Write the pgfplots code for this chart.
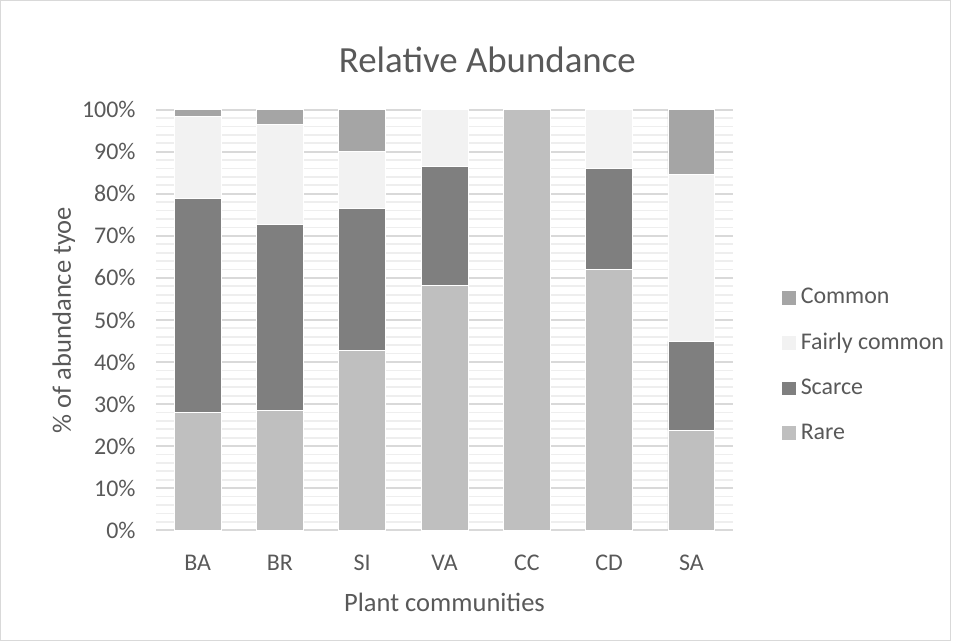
\documentclass[border=0pt]{standalone}
\usepackage{pgfplots}
\pgfplotsset{compat=1.18}
\usepackage{fontspec}
\setmainfont{Carlito}
\definecolor{txt}{HTML}{595959}
\definecolor{cRare}{HTML}{BFBFBF}
\definecolor{cScarce}{HTML}{7F7F7F}
\definecolor{cFair}{HTML}{F2F2F2}
\definecolor{cCommon}{HTML}{A5A5A5}
\definecolor{gmaj}{HTML}{D9D9D9}
\definecolor{gmin}{HTML}{EEEEEE}

\pgfplotstableread{
x  rare scarce fair common
0  28.0 50.9   19.5 1.6
1  28.4 44.2   23.9 3.5
2  42.7 33.8   13.6 9.9
3  58.3 28.2   13.5 0.0
4  100  0.0    0.0  0.0
5  61.9 24.1   14.0 0.0
6  23.7 21.2   39.7 15.4
}\abund

\begin{document}
\begin{tikzpicture}
\begin{axis}[
    name=ax,
    at={(0,0)}, anchor=south west,
    scale only axis,
    width=289pt, height=211pt,
    ybar stacked,
    bar width=0.57,
    xmin=-0.5, xmax=6.5,
    ymin=0, ymax=100,
    xtick={0,...,6},
    xticklabels={BA,BR,SI,VA,CC,CD,SA},
    ytick={0,10,...,100},
    minor ytick={2,4,...,98},
    yticklabel={\pgfmathprintnumber{\tick}\%},
    /pgf/number format/assume math mode=true,
    ymajorgrids, yminorgrids,
    major grid style={gmaj, line width=0.9pt},
    minor grid style={gmin, line width=0.9pt},
    axis line style={draw=none},
    axis x line*=bottom,
    major tick length=0pt, minor tick length=0pt,
    tick style={draw=none},
    ticklabel style={font=\fontsize{12}{14}\selectfont, text=txt},
    xticklabel style={yshift=-9pt},
    yticklabel style={xshift=-7pt},
    reverse legend,
    legend style={
        at={(1.073,0.392)}, anchor=west,
        draw=none, fill=none,
        font=\fontsize{12}{14}\selectfont, text=txt,
        row sep=9.2pt,
        legend cell align=left,
    },
    legend image code/.code={
        \fill[#1] (0pt,-3.75pt) rectangle (7.5pt,3.75pt);
    },
]
\addplot[fill=cRare, draw=white, line width=0.4pt] table[x=x, y=rare] {\abund};
\addplot[fill=cScarce, draw=white, line width=0.4pt] table[x=x, y=scarce] {\abund};
\addplot[fill=cFair, draw=white, line width=0.4pt] table[x=x, y=fair] {\abund};
\addplot[fill=cCommon, draw=white, line width=0.4pt] table[x=x, y=common] {\abund};
\legend{Rare, Scarce, Fairly common, Common}
\draw[gmaj, line width=1pt] (rel axis cs:0,0) -- (rel axis cs:1,0);
\end{axis}
\node[text=txt, font=\fontsize{18.5}{22}\selectfont] at ([yshift=25pt]ax.north west -| {166pt,0}) {Relative Abundance};
\node[text=txt, font=\fontsize{13.3}{16}\selectfont] at (144.5pt,-36pt) {Plant communities};
\node[text=txt, font=\fontsize{13.3}{16}\selectfont, rotate=90] at (-46.5pt,105.5pt) {\% of abundance tyoe};
\draw[gmaj, line width=0.6pt] (-78.2pt,-55.2pt) rectangle (398.2pt,265.7pt);
\useasboundingbox (-78.5pt,-55.5pt) rectangle (398.5pt,266pt);
\end{tikzpicture}
\end{document}
